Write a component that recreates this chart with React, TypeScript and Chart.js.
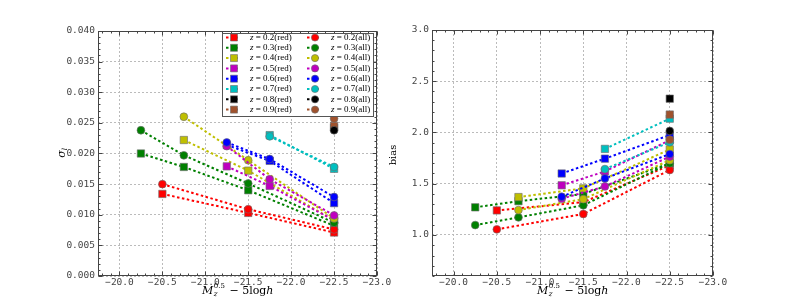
import React, { useEffect, useRef } from 'react';
import { Chart, registerables } from 'chart.js';
Chart.register(...registerables);

// ---------- data ----------
const Z_LABELS = ['0.2', '0.3', '0.4', '0.5', '0.6', '0.7', '0.8', '0.9'];
const COLORS = ['#ff0000', '#008000', '#bfbf00', '#bf00bf', '#0000ff', '#00bfbf', '#000000', '#a0522d'];

const MAG_X = [
  [-20.5, -21.5, -22.5],
  [-20.25, -20.75, -21.5, -22.5],
  [-20.75, -21.5, -22.5],
  [-21.25, -21.75, -22.5],
  [-21.25, -21.75, -22.5],
  [-21.75, -22.5],
  [-22.5],
  [-22.5],
];

const SIGMA_RED = [
  [0.0134, 0.0103, 0.0071],
  [0.0200, 0.0178, 0.0140, 0.0082],
  [0.0222, 0.0172, 0.0091],
  [0.0179, 0.0147, 0.0091],
  [0.0214, 0.0188, 0.0119],
  [0.0230, 0.0175],
  [0.0242],
  [0.0245],
];
const SIGMA_ALL = [
  [0.0150, 0.0109, 0.0076],
  [0.0238, 0.0197, 0.0151, 0.0087],
  [0.0260, 0.0189, 0.0094],
  [0.0212, 0.0158, 0.0099],
  [0.0218, 0.0191, 0.0129],
  [0.0228, 0.0178],
  [0.0238],
  [0.0257],
];
const BIAS_RED = [
  [1.24, 1.32, 1.68],
  [1.27, 1.33, 1.40, 1.70],
  [1.37, 1.455, 1.835],
  [1.485, 1.62, 1.925],
  [1.60, 1.745, 1.975],
  [1.84, 2.135],
  [2.33],
  [2.175],
];
const BIAS_ALL = [
  [1.055, 1.205, 1.634],
  [1.097, 1.172, 1.29, 1.70],
  [1.243, 1.35, 1.73],
  [1.354, 1.474, 1.765],
  [1.373, 1.552, 1.79],
  [1.643, 1.905],
  [2.015],
  [1.93],
];

const X_TICKS = [-20.0, -20.5, -21.0, -21.5, -22.0, -22.5, -23.0];
const SIGMA_TICKS = [0, 0.005, 0.01, 0.015, 0.02, 0.025, 0.03, 0.035, 0.04];
const BIAS_TICKS = [1.0, 1.5, 2.0, 2.5, 3.0];

// ---------- helpers ----------
const TICK_FONT = { family: 'DejaVu Sans Mono', size: 9.5 };
const AXIS_COLOR = '#444';

function buildDatasets(red: number[][], all: number[][]) {
  const ds: any[] = [];
  const mk = (vals: number[][], i: number, style: string) => ({
    label: 'z = ' + Z_LABELS[i] + (style === 'rect' ? '(red)' : '(all)'),
    data: MAG_X[i].map((x, k) => ({ x, y: vals[i][k] })),
    borderColor: COLORS[i],
    backgroundColor: COLORS[i],
    borderWidth: 2,
    borderDash: [2.5, 2.5],
    pointStyle: style,
    pointRadius: style === 'rect' ? 5.2 : 3.9,
    pointBorderColor: 'rgba(110,110,110,0.9)',
    pointBorderWidth: 0.7,
    pointBackgroundColor: COLORS[i],
    showLine: true,
    fill: false,
  });
  Z_LABELS.forEach((_, i) => ds.push(mk(red, i, 'rect')));
  Z_LABELS.forEach((_, i) => ds.push(mk(all, i, 'circle')));
  ds.forEach((d, i) => (d.order = ds.length - i));
  return ds;
}

const fmtX = (v: number) => (v < 0 ? '\u2212' : '') + Math.abs(v).toFixed(1);

const framePlugin = {
  id: 'frame',
  afterDraw(chart: any, _a: any, opts: any) {
    const { ctx, chartArea: a, scales } = chart;
    const L = Math.round(a.left) + 0.5, R = Math.round(a.right) - 0.5;
    const T = Math.round(a.top) + 0.5, B = Math.round(a.bottom) - 0.5;
    ctx.save();
    ctx.strokeStyle = AXIS_COLOR;
    ctx.lineWidth = 1;
    ctx.beginPath();
    // x ticks
    const xs = scales.x, ys = scales.y;
    const xMaj: number[] = opts.xMajor, yMaj: number[] = opts.yMajor;
    const xStep = opts.xMinorStep, yStep = opts.yMinorStep;
    for (let v = Math.ceil(xs.min / xStep - 1e-6) * xStep; v <= xs.max + 1e-9; v += xStep) {
      const major = xMaj.some((m) => Math.abs(m - v) < 1e-6);
      const len = major ? 4 : 2;
      const px = Math.round(xs.getPixelForValue(v)) + 0.5;
      ctx.moveTo(px, B); ctx.lineTo(px, B - len);
      ctx.moveTo(px, T); ctx.lineTo(px, T + len);
    }
    for (let v = Math.ceil(ys.min / yStep - 1e-6) * yStep; v <= ys.max + 1e-9; v += yStep) {
      const major = yMaj.some((m) => Math.abs(m - v) < 1e-6);
      const len = major ? 4 : 2;
      const py = Math.round(ys.getPixelForValue(v)) + 0.5;
      ctx.moveTo(L, py); ctx.lineTo(L + len, py);
      ctx.moveTo(R, py); ctx.lineTo(R - len, py);
    }
    ctx.stroke();
    ctx.strokeRect(L, T, R - L, B - T);
    ctx.restore();
  },
};

function drawXTitle(ctx: CanvasRenderingContext2D, cx: number, cy: number) {
  const big = 'italic 11px "DejaVu Serif"';
  const small = '7px "DejaVu Serif"';
  const smallIt = 'italic 7px "DejaVu Serif"';
  const reg = '11px "DejaVu Serif"';
  ctx.save();
  ctx.fillStyle = '#000';
  ctx.textBaseline = 'alphabetic';
  ctx.font = big; const wM = ctx.measureText('M').width;
  ctx.font = small; const wSup = ctx.measureText('0.5').width;
  ctx.font = reg; const wMid = ctx.measureText(' \u2212 5log').width;
  ctx.font = big; const wH = ctx.measureText('h').width;
  const total = wM + wSup + 1 + wMid + wH;
  let x = cx - total / 2;
  const base = cy + 4;
  ctx.font = big; ctx.fillText('M', x, base); x += wM + 0.5;
  ctx.font = small; ctx.fillText('0.5', x, base - 6);
  ctx.font = smallIt; ctx.fillText('z', x, base + 2);
  x += wSup + 1;
  ctx.font = reg; ctx.fillText(' \u2212 5log', x, base); x += wMid;
  ctx.font = big; ctx.fillText('h', x, base);
  ctx.restore();
}

const titlePlugin = {
  id: 'titles',
  afterDraw(chart: any, _a: any, opts: any) {
    const { ctx, chartArea: a } = chart;
    drawXTitle(ctx, (a.left + a.right) / 2, opts.xTitleY);
    ctx.save();
    ctx.translate(opts.yTitleX, opts.yTitleY);
    ctx.rotate(-Math.PI / 2);
    ctx.fillStyle = '#000';
    ctx.textBaseline = 'middle';
    if (opts.yTitle === 'sigma') {
      ctx.font = 'italic 11px "DejaVu Serif"';
      const w = ctx.measureText('\u03c3').width;
      ctx.textAlign = 'left';
      ctx.fillText('\u03c3', -w / 2 - 1, 0);
      ctx.font = 'italic 7px "DejaVu Serif"';
      ctx.fillText('l', w / 2 - 1, 3);
    } else {
      ctx.font = '10px "DejaVu Serif"';
      ctx.textAlign = 'center';
      ctx.fillText('bias', 0, 0);
    }
    ctx.restore();
  },
};

const legendPlugin = {
  id: 'customLegend',
  afterDraw(chart: any, _a: any, opts: any) {
    if (!opts.show) return;
    const ctx = chart.ctx as CanvasRenderingContext2D;
    const bx = 222.5, by = 33.5, bw = 151, bh = 83;
    ctx.save();
    ctx.fillStyle = '#fff';
    ctx.fillRect(bx, by, bw, bh);
    ctx.strokeStyle = '#555';
    ctx.lineWidth = 1;
    ctx.strokeRect(bx, by, bw, bh);
    const drawCol = (x0: number, style: string, suffix: string) => {
      Z_LABELS.forEach((z, i) => {
        const y = 37.5 + i * 10.3;
        ctx.save();
        ctx.strokeStyle = COLORS[i];
        ctx.lineWidth = 2;
        ctx.setLineDash([2.5, 2.5]);
        ctx.beginPath();
        ctx.moveTo(x0, y); ctx.lineTo(x0 + 12, y);
        ctx.stroke();
        ctx.restore();
        ctx.fillStyle = COLORS[i];
        ctx.strokeStyle = 'rgba(110,110,110,0.9)';
        ctx.lineWidth = 0.7;
        ctx.beginPath();
        if (style === 'rect') ctx.rect(x0 + 4.5, y - 3.5, 7, 7);
        else ctx.arc(x0 + 8, y, 3.6, 0, Math.PI * 2);
        ctx.fill(); ctx.stroke();
        ctx.fillStyle = '#000';
        ctx.textBaseline = 'middle';
        ctx.textAlign = 'left';
        let tx = x0 + 24;
        ctx.font = 'italic 9px "Liberation Serif"';
        ctx.fillText('z', tx, y);
        tx += ctx.measureText('z').width;
        ctx.font = '9px "Liberation Serif"';
        ctx.fillText(' = ' + z + suffix, tx, y);
      });
    };
    drawCol(226, 'rect', '(red)');
    drawCol(307, 'circle', '(all)');
    ctx.restore();
  },
};

function makeConfig(kind: 'sigma' | 'bias'): any {
  const isS = kind === 'sigma';
  const yTicks = isS ? SIGMA_TICKS : BIAS_TICKS;
  return {
    type: 'scatter',
    data: { datasets: buildDatasets(isS ? SIGMA_RED : BIAS_RED, isS ? SIGMA_ALL : BIAS_ALL) },
    plugins: [framePlugin, titlePlugin, legendPlugin],
    options: {
      animation: false,
      responsive: false,
      devicePixelRatio: 1,
      layout: { padding: isS ? { left: 0, top: 31, right: 23, bottom: 0 } : { left: 0, top: 30, right: 76, bottom: 0 } },
      plugins: {
        legend: { display: false },
        tooltip: { enabled: false },
        frame: { xMajor: X_TICKS, yMajor: yTicks, xMinorStep: 0.1, yMinorStep: isS ? 0.001 : 0.1 },
        titles: isS
          ? { xTitleY: 290, yTitleX: 62, yTitleY: 153, yTitle: 'sigma' }
          : { xTitleY: 290, yTitleX: 13, yTitleY: 155, yTitle: 'bias' },
        customLegend: { show: isS },
      },
      scales: {
        x: {
          type: 'linear',
          min: -23.0,
          max: -19.75,
          reverse: true,
          afterBuildTicks: (s: any) => { s.ticks = X_TICKS.map((v) => ({ value: v })); },
          afterFit: (s: any) => { s.height = 31; },
          ticks: { font: TICK_FONT, color: AXIS_COLOR, padding: 1, maxRotation: 0, autoSkip: false, callback: (v: any) => fmtX(Number(v)) },
          grid: { color: '#bbbbbb', lineWidth: 1, drawTicks: false },
          border: { display: false, dash: [2, 2] },
          title: { display: false },
        },
        y: {
          type: 'linear',
          min: isS ? 0 : 0.6,
          max: isS ? 0.04 : 3.0,
          afterBuildTicks: (s: any) => { s.ticks = yTicks.map((v) => ({ value: v })); },
          afterFit: (s: any) => { s.width = isS ? 98 : 52; },
          ticks: { font: TICK_FONT, color: AXIS_COLOR, padding: 3, autoSkip: false, callback: (v: any) => Number(v).toFixed(isS ? 3 : 1) },
          grid: { color: '#bbbbbb', lineWidth: 1, drawTicks: false },
          border: { display: false, dash: [2, 2] },
          title: { display: false },
        },
      },
    },
  };
}

function ChartCanvas({ kind, left, width }: { kind: 'sigma' | 'bias'; left: number; width: number }) {
  const ref = useRef<HTMLCanvasElement>(null);
  useEffect(() => {
    if (!ref.current) return;
    const chart = new Chart(ref.current, makeConfig(kind));
    return () => chart.destroy();
  }, [kind]);
  return (
    <canvas
      ref={ref}
      width={width}
      height={307}
      style={{ position: 'absolute', left, top: 0, width, height: 307 }}
    />
  );
}

export default function App() {
  return (
    <div style={{ position: 'fixed', left: 0, top: 0, width: 789, height: 307, background: '#fff' }}>
      <ChartCanvas kind="sigma" left={0} width={400} />
      <ChartCanvas kind="bias" left={380} width={409} />
    </div>
  );
}
